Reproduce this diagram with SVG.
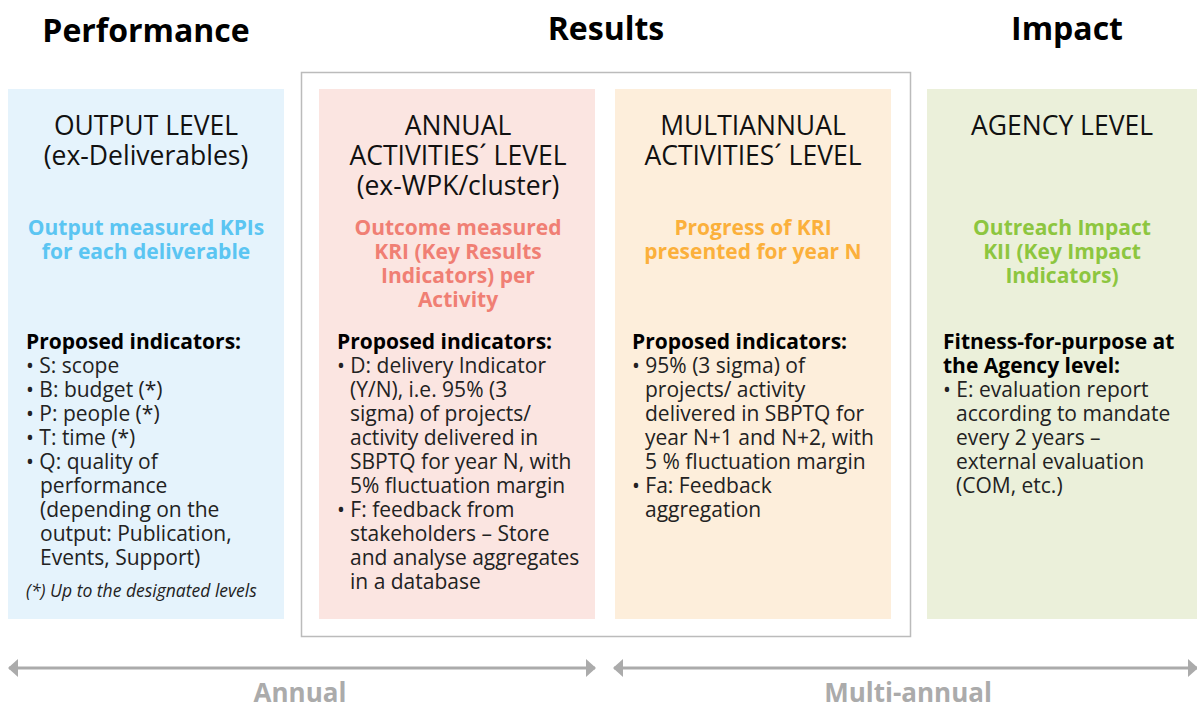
<svg xmlns="http://www.w3.org/2000/svg" width="1197" height="706" viewBox="0 0 1197 706">
<defs>
<style>
text{font-family:"Open Sans","Liberation Sans",sans-serif;}
.hdr{font-size:32px;font-weight:700;fill:#000;text-anchor:middle;}
.ttl{font-size:26.5px;fill:#111;text-anchor:middle;}
.sub{font-size:21px;font-weight:700;text-anchor:middle;}
.bh{font-size:21px;font-weight:700;fill:#000;}
.bd{font-size:21px;fill:#222;}
.note{font-size:17.5px;font-style:italic;fill:#222;}
.tl{font-size:26px;font-weight:700;fill:#ABABAB;text-anchor:middle;}
.ax{stroke:#ABABAB;stroke-width:3;fill:none;}
</style>
<marker id="ah" viewBox="0 0 10 18" refX="9" refY="9" markerWidth="10" markerHeight="18" markerUnits="userSpaceOnUse" orient="auto-start-reverse">
<path d="M0,0 L10,9 L0,18 Z" fill="#ABABAB"/>
</marker>
</defs>
<rect width="1197" height="706" fill="#fff"/>

<g id="headers">
<text class="hdr" x="146" y="42">Performance</text>
<text class="hdr" x="606" y="40">Results</text>
<text class="hdr" x="1067" y="40">Impact</text>
</g>

<g id="results-frame">
<rect x="301.5" y="72.5" width="609" height="564" fill="#fff" stroke="#BBBBBB" stroke-width="1.5"/>
</g>

<g id="output-level">
<rect x="8" y="89" width="276" height="530" fill="#E5F3FC"/>
<text class="ttl" x="146" y="135">OUTPUT LEVEL</text>
<text class="ttl" x="146" y="165">(ex-Deliverables)</text>
<text class="sub" x="146" y="235" fill="#5BC5F2">Output measured KPIs</text>
<text class="sub" x="146" y="259" fill="#5BC5F2">for each deliverable</text>
<text class="bh" x="26" y="349">Proposed indicators:</text>
<text class="bd" x="26" y="373">• S: scope</text>
<text class="bd" x="26" y="397">• B: budget (*)</text>
<text class="bd" x="26" y="421">• P: people (*)</text>
<text class="bd" x="26" y="445">• T: time (*)</text>
<text class="bd" x="26" y="469">• Q: quality of</text>
<text class="bd" x="40" y="493">performance</text>
<text class="bd" x="40" y="517">(depending on the</text>
<text class="bd" x="40" y="541">output: Publication,</text>
<text class="bd" x="40" y="565">Events, Support)</text>
<text class="note" x="26" y="597">(*) Up to the designated levels</text>
</g>

<g id="annual-activities">
<rect x="319" y="89" width="276" height="530" fill="#FBE5E1"/>
<text class="ttl" x="458" y="135">ANNUAL</text>
<text class="ttl" x="458" y="165">ACTIVITIES´ LEVEL</text>
<text class="ttl" x="458" y="195">(ex-WPK/cluster)</text>
<text class="sub" x="458" y="235" fill="#F07F74">Outcome measured</text>
<text class="sub" x="458" y="259" fill="#F07F74">KRI (Key Results</text>
<text class="sub" x="458" y="283" fill="#F07F74">Indicators) per</text>
<text class="sub" x="458" y="307" fill="#F07F74">Activity</text>
<text class="bh" x="337" y="349">Proposed indicators:</text>
<text class="bd" x="337" y="373">• D: delivery Indicator</text>
<text class="bd" x="350" y="397">(Y/N), i.e. 95% (3</text>
<text class="bd" x="350" y="421">sigma) of projects/</text>
<text class="bd" x="350" y="445">activity delivered in</text>
<text class="bd" x="350" y="469">SBPTQ for year N, with</text>
<text class="bd" x="350" y="493">5% fluctuation margin</text>
<text class="bd" x="337" y="517">• F: feedback from</text>
<text class="bd" x="350" y="541">stakeholders – Store</text>
<text class="bd" x="350" y="565">and analyse aggregates</text>
<text class="bd" x="350" y="589">in a database</text>
</g>

<g id="multiannual-activities">
<rect x="615" y="89" width="276" height="530" fill="#FDEEDB"/>
<text class="ttl" x="753" y="135">MULTIANNUAL</text>
<text class="ttl" x="753" y="165">ACTIVITIES´ LEVEL</text>
<text class="sub" x="753" y="235" fill="#FBB03B">Progress of KRI</text>
<text class="sub" x="753" y="259" fill="#FBB03B">presented for year N</text>
<text class="bh" x="632" y="349">Proposed indicators:</text>
<text class="bd" x="632" y="373">• 95% (3 sigma) of</text>
<text class="bd" x="645" y="397">projects/ activity</text>
<text class="bd" x="645" y="421">delivered in SBPTQ for</text>
<text class="bd" x="645" y="445">year N+1 and N+2, with</text>
<text class="bd" x="645" y="469">5 % fluctuation margin</text>
<text class="bd" x="632" y="493">• Fa: Feedback</text>
<text class="bd" x="645" y="517">aggregation</text>
</g>

<g id="agency-level">
<rect x="927" y="89" width="270" height="530" fill="#EBF0DA"/>
<text class="ttl" x="1062" y="135">AGENCY LEVEL</text>
<text class="sub" x="1062" y="235" fill="#8DC63F">Outreach Impact</text>
<text class="sub" x="1062" y="259" fill="#8DC63F">KII (Key Impact</text>
<text class="sub" x="1062" y="283" fill="#8DC63F">Indicators)</text>
<text class="bh" x="943" y="349">Fitness-for-purpose at</text>
<text class="bh" x="943" y="373">the Agency level:</text>
<text class="bd" x="943" y="397">• E: evaluation report</text>
<text class="bd" x="956" y="421">according to mandate</text>
<text class="bd" x="956" y="445">every 2 years –</text>
<text class="bd" x="956" y="469">external evaluation</text>
<text class="bd" x="956" y="493">(COM, etc.)</text>
</g>

<g id="connectors">
<line class="ax" x1="9" y1="668" x2="595" y2="668" marker-start="url(#ah)" marker-end="url(#ah)"/>
<line class="ax" x1="614" y1="668" x2="1197" y2="668" marker-start="url(#ah)" marker-end="url(#ah)"/>
</g>

<g id="timeline-labels">
<text class="tl" x="300" y="702">Annual</text>
<text class="tl" x="908" y="702">Multi-annual</text>
</g>
</svg>
